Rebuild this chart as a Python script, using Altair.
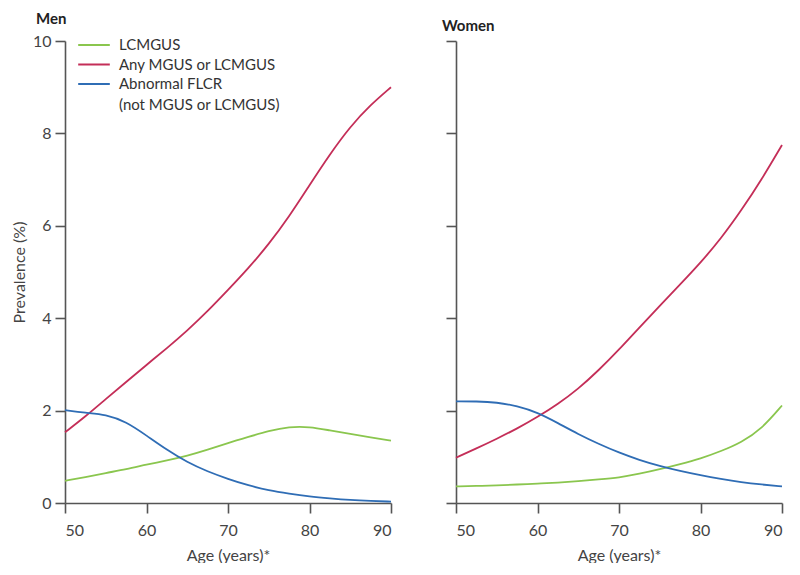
import altair as alt
import pandas as pd

ages = [50, 52.5, 55, 57.5, 60, 62.5, 65, 67.5, 70, 72.5, 75, 77.5, 80, 82.5, 85, 87.5, 90]

men_lcmgus = [0.48, 0.56, 0.65, 0.73, 0.83, 0.92, 1.02, 1.15, 1.30, 1.43, 1.56, 1.65, 1.65, 1.57, 1.50, 1.42, 1.35]
men_any = [1.53, 1.87, 2.25, 2.62, 2.99, 3.35, 3.73, 4.15, 4.61, 5.08, 5.60, 6.20, 6.88, 7.55, 8.15, 8.62, 9.00]
men_flcr = [2.01, 1.95, 1.92, 1.76, 1.46, 1.15, 0.88, 0.68, 0.52, 0.38, 0.27, 0.20, 0.14, 0.10, 0.065, 0.045, 0.03]

women_lcmgus = [0.36, 0.37, 0.38, 0.40, 0.42, 0.44, 0.47, 0.51, 0.55, 0.63, 0.73, 0.84, 0.96, 1.12, 1.31, 1.60, 2.11]
women_any = [0.98, 1.18, 1.39, 1.61, 1.86, 2.14, 2.47, 2.87, 3.32, 3.80, 4.27, 4.73, 5.20, 5.72, 6.33, 7.00, 7.75]
women_flcr = [2.20, 2.20, 2.18, 2.10, 1.96, 1.73, 1.49, 1.28, 1.09, 0.93, 0.80, 0.69, 0.60, 0.52, 0.45, 0.40, 0.36]

series = ["LCMGUS", "Any MGUS or LCMGUS", "Abnormal FLCR|(not MGUS or LCMGUS)"]
colors = ["#8ac64e", "#c42e58", "#2f6db5"]
x_ticks = [50, 60, 70, 80, 90]
y_ticks = [0, 2, 4, 6, 8, 10]


def frame(vals):
    rows = []
    for name, v in zip(series, vals):
        for a, p in zip(ages, v):
            rows.append({"age": a, "prev": p, "series": name})
    return pd.DataFrame(rows)


FONT = "Lato"
W, H = 326, 462


def panel(df, title, dx, show_legend, show_ylabels):
    color_legend = None
    if show_legend:
        color_legend = alt.Legend(
            orient="none", legendX=12, legendY=-4, title=None,
            symbolType="stroke", symbolSize=1000, symbolStrokeWidth=1.8,
            labelFont=FONT, labelFontSize=15, labelColor="#333",
            labelLimit=0, rowPadding=3.5, clipHeight=16,
            labelExpr="split(datum.label, '|')",
            symbolOffset=0, labelOffset=8,
        )
    yaxis = alt.Axis(values=y_ticks, title="Prevalence (%)" if show_ylabels else None,
                     labels=show_ylabels, titlePadding=5)
    return alt.Chart(df).mark_line(strokeWidth=1.8, interpolate="basis").encode(
        x=alt.X("age:Q", scale=alt.Scale(domain=[50, 90], nice=False),
                axis=alt.Axis(values=x_ticks, title="Age (years)*", titlePadding=9,
                              labelPadding=9)),
        y=alt.Y("prev:Q", scale=alt.Scale(domain=[0, 10], nice=False), axis=yaxis),
        color=alt.Color("series:N", scale=alt.Scale(domain=series, range=colors),
                        sort=series, legend=color_legend),
    ).properties(
        width=W, height=H,
        title=alt.TitleParams(title, anchor="start", frame="group", dx=dx,
                              fontSize=15, fontWeight="bold", font=FONT,
                              color="#222", offset=6),
    )


men = panel(frame([men_lcmgus, men_any, men_flcr]), "Men", -29, True, True)
women = panel(frame([women_lcmgus, women_any, women_flcr]), "Women", -14, False, False)

chart = alt.hconcat(men, women, spacing=47).resolve_scale(color="independent").configure(
    style={"guide-label": {"lineHeight": 21}}
).configure_view(
    stroke=None
).configure_axis(
    grid=False, domainColor="#555", tickColor="#555", domainWidth=1.6, tickWidth=1.6,
    tickSize=10, labelFont=FONT, labelFontSize=16, labelColor="#444",
    titleFont=FONT, titleFontSize=16, titleFontWeight="normal", titleColor="#444",
    labelPadding=4,
).properties(padding={"left": 3, "top": 4, "right": 0, "bottom": 0})

chart.save("out.html", embed_options={"renderer": "svg", "actions": False})
